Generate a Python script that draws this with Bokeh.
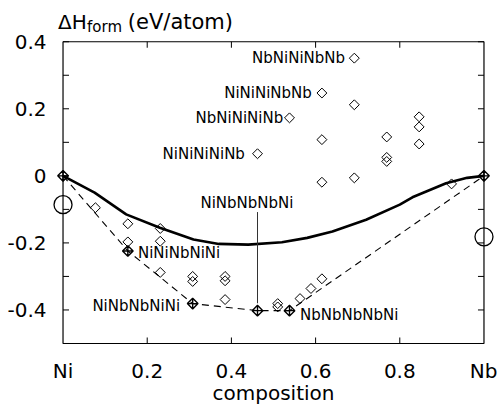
import math
from bokeh.plotting import figure
from bokeh.models import LinearAxis, FixedTicker, Range1d, Label
from bokeh.embed import file_html
from bokeh.resources import INLINE
from bokeh.core.properties import value

# ---- data ----
# all calculated structures (open diamonds)
struct_x = [0.077, 0.154, 0.154, 0.231, 0.231, 0.231, 0.308, 0.308, 0.385, 0.385, 0.385,
            0.510, 0.510, 0.563, 0.589, 0.615, 0.462, 0.538, 0.615, 0.615, 0.615,
            0.692, 0.692, 0.692, 0.769, 0.769, 0.769, 0.846, 0.846, 0.846, 0.923]
struct_y = [-0.095, -0.143, -0.197, -0.157, -0.195, -0.288, -0.300, -0.315, -0.300, -0.313, -0.369,
            -0.381, -0.391, -0.366, -0.336, -0.307, 0.066, 0.173, 0.247, 0.108, -0.019,
            0.351, 0.212, -0.006, 0.116, 0.055, 0.043, 0.176, 0.146, 0.095, -0.024]
# ground-state hull
hull_x = [0.0, 0.154, 0.308, 0.462, 0.538, 1.0]
hull_y = [0.0, -0.224, -0.381, -0.402, -0.402, 0.0]
# mixing-enthalpy curve (solid)
curve_x = [0.0, 0.075, 0.15, 0.23, 0.31, 0.37, 0.44, 0.52, 0.58, 0.64, 0.72, 0.80, 0.83, 0.91, 0.96, 1.0]
curve_y = [0.0, -0.05, -0.115, -0.155, -0.19, -0.203, -0.205, -0.198, -0.185, -0.166, -0.131,
           -0.086, -0.064, -0.022, -0.006, 0.0]
# reference circles at pure elements
circ_x = [0.0, 1.0]
circ_y = [-0.086, -0.182]

# structure labels
lab_text = ["NbNiNiNbNb", "NiNiNiNbNb", "NbNiNiNiNb", "NiNiNiNiNb", "NiNbNbNbNi",
            "NiNiNbNiNi", "NiNbNbNiNi", "NbNbNbNbNi"]
lab_x = [0.670, 0.591, 0.523, 0.432, 0.437, 0.178, 0.278, 0.563]
lab_y = [0.351, 0.247, 0.173, 0.065, -0.080, -0.229, -0.387, -0.414]
lab_align = ["right", "right", "right", "right", "center", "left", "right", "left"]

# axes
X_MIN, X_MAX = 0.0, 1.0
Y_MIN, Y_MAX = -0.5, 0.4
x_ticks = [0, 0.2, 0.4, 0.6, 0.8, 1.0]
x_tick_labels = {0: "Ni", 1: "Nb"}
y_ticks = [-0.4, -0.2, 0, 0.2, 0.4]
y_minor = [-0.5, -0.3, -0.1, 0.1, 0.3]
y_tick_labels = {-0.4: "-0.4", -0.2: "-0.2", 0: "0", 0.2: "0.2", 0.4: "0.4"}

# title pieces: ΔH_form (eV/atom)
title_text = ["ΔH", "form", "(eV/atom)"]
title_x = [-0.012, 0.057, 0.154]
title_y = [0.460, 0.445, 0.460]
title_size = ["20px", "15px", "21px"]

FONT = "DejaVu Sans"

p = figure(frame_width=442, frame_height=343,
           x_range=Range1d(-0.025, 1.025), y_range=Range1d(-0.503, 0.52),
           output_backend="svg", toolbar_location=None,
           x_axis_type=None, y_axis_type=None,
           min_border_left=52, min_border_right=3, min_border_top=1, min_border_bottom=55)
p.grid.visible = False
p.outline_line_color = None
p.background_fill_color = "white"
p.border_fill_color = "white"


def style_axis(ax):
    ax.axis_line_color = None
    ax.major_tick_line_color = None
    ax.minor_tick_line_color = None
    ax.major_label_text_font = FONT
    ax.major_label_text_font_size = "20px"
    ax.major_label_text_color = "black"


left = LinearAxis(ticker=FixedTicker(ticks=y_ticks, minor_ticks=[]),
                  major_label_overrides=y_tick_labels)
style_axis(left)
left.major_label_standoff = 0
p.add_layout(left, "left")

bottom = LinearAxis(ticker=FixedTicker(ticks=x_ticks, minor_ticks=[]),
                    major_label_overrides=x_tick_labels, axis_label="composition")
style_axis(bottom)
bottom.major_label_standoff = 8
bottom.axis_label_text_font = FONT
bottom.axis_label_text_font_size = "20px"
bottom.axis_label_text_font_style = "normal"
bottom.axis_label_text_color = "black"
bottom.axis_label_standoff = -5
p.add_layout(bottom, "below")

# plot box
p.quad(left=[X_MIN], right=[X_MAX], bottom=[Y_MIN], top=[Y_MAX],
       fill_color=None, line_color="black", line_width=1.2)

# inward ticks
all_y = sorted(y_ticks + y_minor)
inner_x = x_ticks[1:-1]
p.ray(x=[X_MIN] * len(all_y), y=all_y, length=6, length_units="screen", angle=0,
      line_color="black", line_width=1)
p.ray(x=[X_MAX] * len(all_y), y=all_y, length=6, length_units="screen", angle=math.pi,
      line_color="black", line_width=1)
p.ray(x=inner_x, y=[Y_MIN] * len(inner_x), length=6, length_units="screen", angle=math.pi / 2,
      line_color="black", line_width=1)
p.ray(x=inner_x, y=[Y_MAX] * len(inner_x), length=6, length_units="screen", angle=-math.pi / 2,
      line_color="black", line_width=1)

# data glyphs
p.line(curve_x, curve_y, line_color="black", line_width=2.6)
p.line(hull_x, hull_y, line_color="black", line_width=1.1, line_dash="7 5")
p.scatter(struct_x, struct_y, marker="square", angle=math.pi / 4, size=7,
          fill_color=None, line_color="black", line_width=1)
p.scatter(hull_x, hull_y, marker="square_x", angle=math.pi / 4, size=7.5,
          fill_color=None, line_color="black", line_width=1.4)
p.scatter(circ_x, circ_y, marker="circle", size=18, fill_color=None,
          line_color="black", line_width=1.3)

# pointer from NiNbNbNbNi label to its hull point
p.segment(x0=[hull_x[3]], y0=[lab_y[4] - 0.028], x1=[hull_x[3]], y1=[hull_y[3] + 0.022],
          line_color="#333333", line_width=1)

for t, x, y, a in zip(lab_text, lab_x, lab_y, lab_align):
    p.add_layout(Label(x=x, y=y, text=t, text_align=a, text_baseline="middle",
                       text_font=FONT, text_font_size="15px", text_color="black"))

for t, x, y, s in zip(title_text, title_x, title_y, title_size):
    p.text(x=[x], y=[y], text=[t], text_font=value(FONT), text_font_size=value(s),
           text_baseline="alphabetic", text_align="left", text_color="black")

open("out.html", "w").write(file_html(p, INLINE))
